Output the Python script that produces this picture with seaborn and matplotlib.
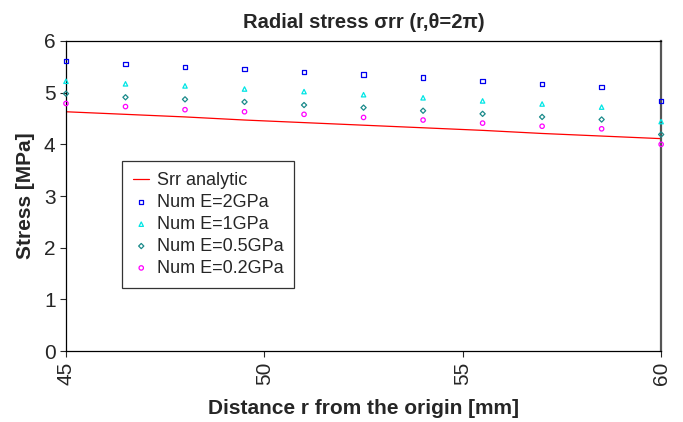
import numpy as np
import pandas as pd
import matplotlib
matplotlib.use("Agg")
import matplotlib.pyplot as plt
import seaborn as sns

sns.set_style("white")
plt.rcParams['font.family'] = ['Liberation Sans', 'DejaVu Sans']

# distance from origin [mm]
r = [45, 46.5, 48, 49.5, 51, 52.5, 54, 55.5, 57, 58.5, 60]

# analytic radial stress [MPa]
srr_analytic = [4.63, 4.58, 4.53, 4.47, 4.42, 4.37, 4.32, 4.27, 4.21, 4.16, 4.11]

# numerical results [MPa]
num_2gpa = [5.61, 5.55, 5.50, 5.46, 5.40, 5.35, 5.29, 5.23, 5.17, 5.11, 4.84]
num_1gpa = [5.22, 5.17, 5.13, 5.07, 5.02, 4.96, 4.90, 4.84, 4.78, 4.72, 4.44]
num_05gpa = [4.98, 4.91, 4.87, 4.82, 4.76, 4.71, 4.65, 4.59, 4.53, 4.48, 4.19]
num_02gpa = [4.79, 4.73, 4.67, 4.63, 4.58, 4.52, 4.47, 4.41, 4.35, 4.30, 4.00]

series = [
    ("Num E=2GPa", num_2gpa, "#0000ee", "s"),
    ("Num E=1GPa", num_1gpa, "#00e5e5", "^"),
    ("Num E=0.5GPa", num_05gpa, "#1a8a8a", "D"),
    ("Num E=0.2GPa", num_02gpa, "#ff00ff", "o"),
]

fig, ax = plt.subplots(figsize=(6.83, 4.22), dpi=100)
fig.subplots_adjust(left=0.0966, right=0.968, top=0.903, bottom=0.168)

sns.lineplot(x=r, y=srr_analytic, color="red", linewidth=0.9, ax=ax, label="Srr analytic")
for name, vals, col, mk in series:
    sns.scatterplot(x=r, y=vals, marker=mk, s=10 if mk != "D" else 7, facecolors="none",
                    edgecolor=col, linewidth=0.9, ax=ax, label=name, clip_on=False, zorder=3)

ax.set_xlim(45, 60)
ax.set_ylim(0, 6)
ax.set_xticks([45, 50, 55, 60])
ax.set_yticks([0, 1, 2, 3, 4, 5, 6])
ax.tick_params(axis="both", direction="out", length=4, width=0.8, labelsize=15, left=True, bottom=True)
ax.tick_params(axis="x", labelrotation=90)

for s in ["left", "bottom", "top"]:
    ax.spines[s].set_color("black")
    ax.spines[s].set_linewidth(0.9)
ax.spines["right"].set_color("#555555")
ax.spines["right"].set_linewidth(1.6)

ax.set_title("Radial stress \u03c3rr (r,\u03b8=2\u03c0)", fontsize=14.5, fontweight="bold", pad=9)
ax.set_xlabel("Distance r from the origin [mm]", fontsize=15, fontweight="bold", labelpad=10)
ax.set_ylabel("Stress [MPa]", fontsize=15, fontweight="bold", labelpad=6)

leg = ax.legend(loc="upper left", bbox_to_anchor=(0.094, 0.613), borderaxespad=0, fontsize=13,
                frameon=True, fancybox=False, edgecolor="black", handlelength=0.9,
                handletextpad=0.4, labelspacing=0.27, borderpad=0.62, markerscale=1.0)
leg.get_frame().set_linewidth(0.9)

fig.savefig("out.png", dpi=100)
